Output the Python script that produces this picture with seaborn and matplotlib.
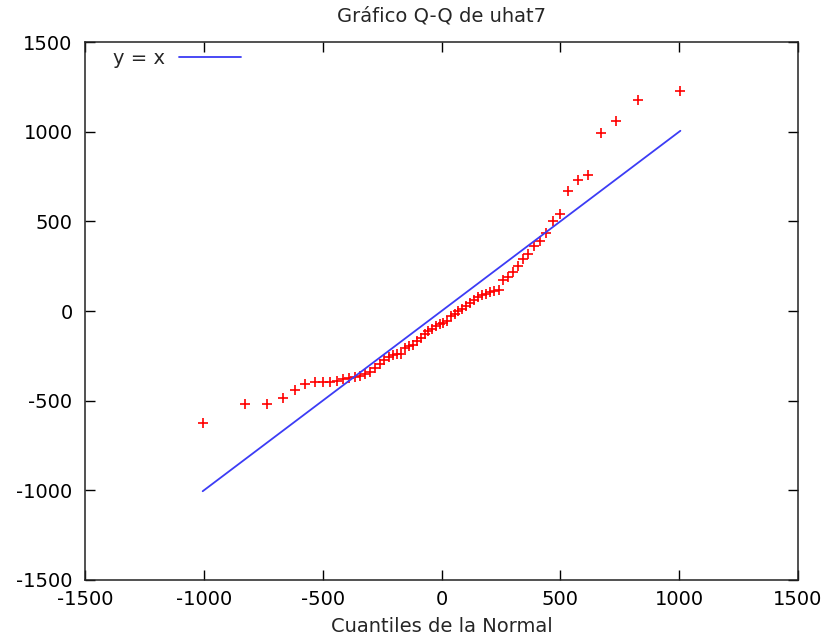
import matplotlib
matplotlib.use("Agg")
import matplotlib.pyplot as plt
import seaborn as sns
import pandas as pd

title = "Gráfico Q-Q de uhat7"
xlabel = "Cuantiles de la Normal"
legend_label = "y = x"
ticks = [-1500, -1000, -500, 0, 500, 1000, 1500]

normal_q = [-1005, -828, -735, -669, -617, -573, -534, -500, -469, -440, -413,
            -388, -364, -342, -320, -299, -279, -260, -241, -222, -205, -187,
            -170, -153, -136, -120, -104, -87, -71, -55, -39, -24, -8,
            8, 24, 39, 55, 71, 87, 104, 120, 136, 153, 170, 187, 205, 222,
            241, 260, 279, 299, 320, 342, 364, 388, 413, 440, 469, 500, 534,
            573, 617, 669, 735, 828, 1005]
uhat7_q = [-627, -519, -519, -485, -441, -405, -396, -396, -396, -390, -378,
           -374, -368, -362, -350, -338, -320, -296, -275, -258, -247, -241,
           -238, -205, -196, -192, -165, -148, -128, -110, -98, -85, -72,
           -66, -55, -30, -15, 0, 12, 28, 45, 62, 80, 88, 97, 104, 110,
           118, 175, 188, 215, 250, 290, 320, 362, 392, 437, 503, 541, 672,
           731, 758, 994, 1061, 1177, 1229]
line_x = [-1005, 1005]

sns.set_theme(style="ticks")
plt.rcParams['font.family'] = ['DejaVu Sans']
plt.rcParams['axes.unicode_minus'] = False

FS = 14

df = pd.DataFrame({"q": normal_q, "u": uhat7_q})
ldf = pd.DataFrame({"x": line_x, "y": line_x})

fig = plt.figure(figsize=(8.28, 6.37), dpi=100)
ax = fig.add_axes([0.1027, 0.0895, 0.8611, 0.8445])

sns.lineplot(data=ldf, x="x", y="y", ax=ax, color="#3c3cf5", linewidth=1.3,
             label=legend_label)
sns.scatterplot(data=df, x="q", y="u", ax=ax, marker="+", color="#ff0000",
                s=60, linewidth=1.2, legend=False)

ax.set_xlim(-1500, 1500)
ax.set_ylim(-1500, 1500)
ax.set_xticks(ticks)
ax.set_yticks(ticks)
ax.tick_params(direction="in", length=7, width=1, top=True, right=True,
               labelsize=FS, colors="black")
ax.tick_params(axis="y", pad=9)
ax.tick_params(axis="x", pad=7)
for sp in ax.spines.values():
    sp.set_visible(True)
    sp.set_linewidth(1.1)
    sp.set_color("#222222")
ax.set_xlabel(xlabel, fontsize=FS, labelpad=6)
ax.set_ylabel("")
ax.set_title(title, fontsize=FS, pad=15)

leg = ax.legend(loc="upper left", frameon=False, markerfirst=False,
                handlelength=3.2, handletextpad=0.7, fontsize=FS,
                borderpad=0.2, bbox_to_anchor=(0.02, 1.013))

fig.savefig("out.png", dpi=100, facecolor="white")
